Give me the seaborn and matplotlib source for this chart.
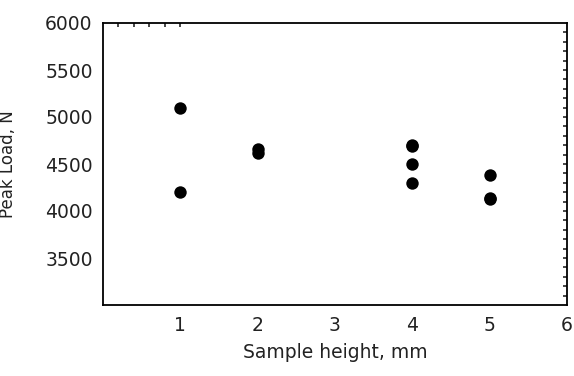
import numpy as np
import pandas as pd
import seaborn as sns
import matplotlib.pyplot as plt

# Values
heights = [1, 1, 2, 2, 4, 4, 4, 4, 5, 5, 5]
loads = [5100, 4200, 4660, 4620, 4700, 4690, 4500, 4300, 4380, 4140, 4130]

df = pd.DataFrame({"height": heights, "load": loads})

sns.set_style("white")
plt.rcParams["font.family"] = ["DejaVu Sans"]

fig = plt.figure(figsize=(5.74, 3.76), dpi=100)
ax = fig.add_axes([103 / 574, 1 - 305 / 376, 464 / 574, 282 / 376])

sns.scatterplot(data=df, x="height", y="load", color="black", s=80,
                edgecolor="black", linewidth=0, ax=ax)

ax.set_xlim(0, 6)
ax.set_ylim(3000, 6000)
ax.set_xticks([1, 2, 3, 4, 5, 6])
ax.set_yticks([3500, 4000, 4500, 5000, 5500, 6000])
ax.tick_params(axis="both", direction="out", length=4, width=1.2,
               labelsize=13.5, colors="black", labelcolor="#222222")
ax.tick_params(axis="x", length=0, pad=8)

# small inward ticks on top and right spines
ax_r = ax.secondary_yaxis("right")
ax_r.set_yticks(np.arange(3100, 6000, 100))
ax_r.tick_params(direction="in", length=3, width=1.2, labelright=False)
ax_t = ax.secondary_xaxis("top")
ax_t.set_xticks([0.2, 0.4, 0.6, 0.8, 1.0])
ax_t.tick_params(direction="in", length=3, width=1.2, labeltop=False)
for s in ax_r.spines.values():
    s.set_visible(False)
for s in ax_t.spines.values():
    s.set_visible(False)

for s in ax.spines.values():
    s.set_visible(True)
    s.set_color("black")
    s.set_linewidth(1.3)

ax.set_xlabel("Sample height, mm", fontsize=13.5, color="#222222", labelpad=6)
ax.set_ylabel("Peak Load, N", fontsize=12, color="#222222")
ax.yaxis.set_label_coords(-0.185, 0.5)

fig.savefig("out.png", dpi=100)
